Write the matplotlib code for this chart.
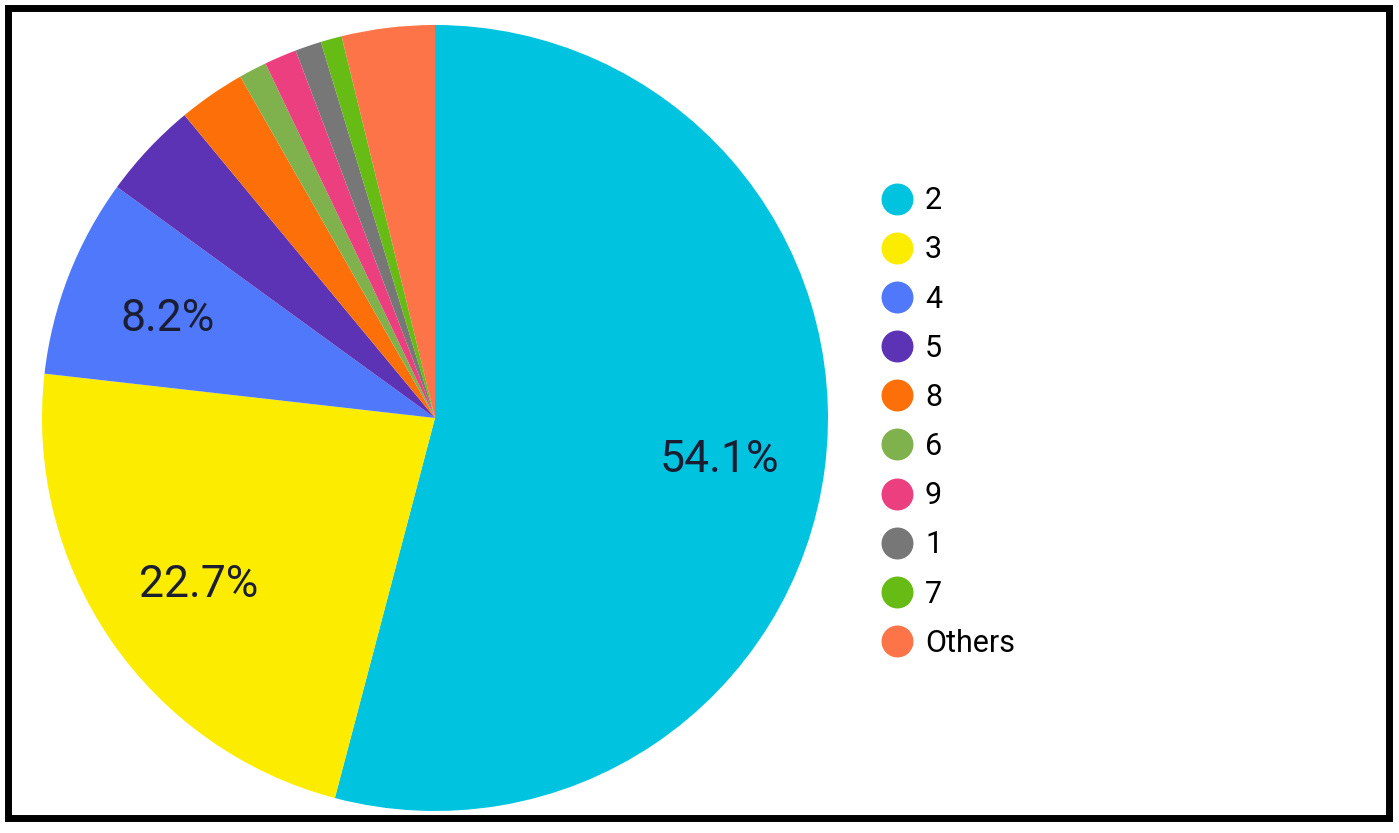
import matplotlib.pyplot as plt
from matplotlib.lines import Line2D
from matplotlib.patches import Rectangle

plt.rcParams['font.family'] = ['Roboto', 'DejaVu Sans']

# share of each group (percent), clockwise from the top
labels = ['2', '3', '4', '5', '8', '6', '9', '1', '7', 'Others']
shares = [54.1, 22.7, 8.2, 4.0, 2.75, 1.15, 1.33, 1.08, 0.87, 3.82]
colors = ['#00c4df', '#fcec00', '#5078fa', '#5c33b5', '#fd6f08',
          '#7fb24c', '#eb3f7f', '#777777', '#66bb14', '#fc7447']

W, H = 1399, 833
fig = plt.figure(figsize=(W / 100, H / 100), dpi=100)

# pie axes placed by pixel: center (435, 418), radius 393
cx, cy, r = 435, 418, 393
ax = fig.add_axes([(cx - r) / W, (H - cy - r) / H, 2 * r / W, 2 * r / H])


def fmt(p):
    return '%.1f%%' % p if p > 5 else ''


wedges, texts, autotexts = ax.pie(shares, colors=colors, startangle=90,
                                  counterclock=False, autopct=fmt,
                                  pctdistance=0.73, radius=1,
                                  wedgeprops=dict(linewidth=0))
for t in autotexts:
    t.set_fontsize(32)
    t.set_color('#1b1d33')
    x, y = t.get_position()
    t.set_position((x, y - 0.012))
ax.set_xlim(-1, 1)
ax.set_ylim(-1, 1)
ax.set_aspect('equal')
ax.axis('off')

# legend with round markers
handles = [Line2D([], [], marker='o', linestyle='none', markersize=22,
                  markerfacecolor=c, markeredgecolor=c) for c in colors]
fig.legend(handles, labels, loc='upper left',
           bbox_to_anchor=(866 / W, 1 - 174 / H), frameon=False,
           fontsize=22, labelspacing=0.66, handletextpad=0.33,
           handlelength=1.2, borderaxespad=0)

# outer black frame
fig.patches.append(Rectangle((8 / W, 1 - 818 / H), 1381 / W, 810 / H,
                             transform=fig.transFigure, fill=False,
                             edgecolor='black', linewidth=5))

fig.savefig('out.png', dpi=100)
